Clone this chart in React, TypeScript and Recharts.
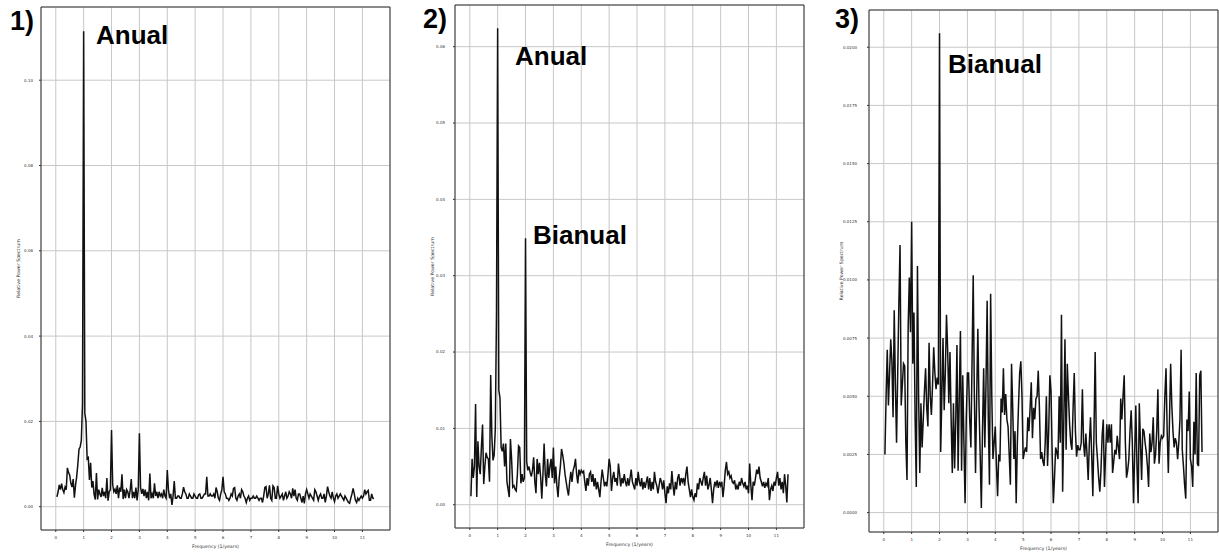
import { LineChart, Line, XAxis, YAxis, CartesianGrid, ReferenceArea } from "recharts";

// frequency ticks (1/years)
const FREQ_TICKS = [0, 1, 2, 3, 4, 5, 6, 7, 8, 9, 10, 11];

// relative power spectrum, in units of 1e-3, sampled every 1/24 year^-1
// (one row of 24 values per unit of frequency)
const SPECTRUM_1 = [
  2.3, 3.5, 5.1, 4.0, 5.4, 4.0, 3.3, 4.6, 4.0, 9.1, 8.0, 7.4, 5.5, 4.6, 6.5, 2.1, 5.0, 7.0, 10, 13.5, 14, 15.5, 24, 111.5,
  22, 20, 11.2, 11.5, 6.3, 10.3, 4.5, 6.0, 2.9, 1.7, 7.9, 1.7, 4.0, 3.0, 2.3, 4.4, 2.5, 3.5, 2.0, 6.7, 1.4, 3.5, 4.0, 18,
  5.2, 3.5, 4.1, 3.0, 5.0, 2.0, 4.5, 3.5, 7.6, 1.8, 4.0, 2.0, 4.0, 3.5, 2.0, 3.8, 6.5, 2.0, 3.5, 2.0, 4.5, 1.5, 4.0, 17.2,
  4.5, 3.0, 4.2, 2.5, 4.0, 2.0, 3.5, 1.5, 7.8, 2.0, 3.0, 2.0, 5.5, 2.5, 3.5, 2.0, 3.5, 2.5, 3.0, 2.0, 4.0, 2.5, 2.0, 8.6,
  4.0, 2.0, 3.0, 0.4, 2.5, 6.0, 2.0, 2.0, 2.5, 2.5, 2.0, 2.0, 3.0, 4.6, 3.5, 3.0, 2.0, 2.0, 3.0, 2.5, 2.0, 2.0, 3.0, 2.5,
  2.0, 2.0, 2.8, 3.0, 2.0, 2.0, 2.5, 3.0, 3.0, 7.0, 2.5, 2.5, 3.0, 2.5, 2.5, 3.0, 2.0, 4.5, 3.5, 2.0, 1.5, 3.0, 4.0, 7.0,
  3.5, 3.0, 2.0, 2.0, 1.5, 2.0, 3.0, 2.5, 4.3, 4.5, 2.0, 1.5, 2.5, 3.0, 2.0, 4.0, 3.5, 2.5, 2.0, 1.0, 2.0, 2.5, 1.5, 2.0,
  2.0, 2.5, 2.0, 2.0, 2.5, 2.0, 1.5, 2.0, 2.0, 1.0, 2.5, 4.5, 4.7, 2.0, 3.0, 5.0, 2.0, 1.5, 4.9, 4.5, 2.0, 2.0, 4.9, 3.0,
  2.0, 2.5, 3.0, 1.5, 2.5, 3.5, 2.0, 2.5, 3.5, 3.0, 2.0, 4.3, 2.5, 4.0, 2.0, 1.5, 3.0, 3.0, 2.0, 1.0, 2.5, 0.8, 3.0, 4.0,
  3.0, 2.0, 3.0, 2.5, 2.0, 1.5, 4.0, 3.5, 2.5, 1.5, 2.5, 3.0, 2.0, 2.0, 3.0, 1.0, 2.5, 4.7, 3.5, 2.5, 2.0, 3.5, 2.0, 1.2,
  2.5, 3.0, 2.0, 2.5, 3.0, 2.5, 2.0, 1.5, 2.5, 2.0, 1.5, 1.0, 0.8, 2.0, 3.0, 4.3, 3.0, 1.5, 1.0, 2.0, 1.5, 2.0, 2.5, 2.0,
  2.5, 4.0, 3.0, 3.5, 3.8, 1.5, 1.5, 3.0, 2.0, 1.9,
];

const SPECTRUM_2 = [
  1.1, 6.0, 3.5, 5.0, 13.2, 1.0, 8.3, 5.0, 4.0, 7.5, 10.5, 2.7, 5.0, 6.8, 6.2, 6.0, 3.0, 17.0, 9.0, 5.8, 6.5, 10, 25, 62.4,
  15, 14, 7.5, 7.0, 8.0, 5.0, 8.0, 3.0, 2.0, 1.0, 8.6, 6.0, 2.3, 2.5, 2.0, 1.8, 4.0, 7.7, 7.5, 2.8, 4.0, 3.0, 3.5, 34.9,
  5.6, 4.5, 5.0, 4.2, 3.7, 4.5, 6.2, 3.0, 1.5, 6.0, 4.0, 5.5, 3.7, 0.8, 4.0, 8.0, 4.0, 2.4, 6.0, 3.5, 5.0, 6.0, 3.5, 7.5,
  2.8, 5.0, 2.5, 1.0, 3.5, 5.0, 7.3, 6.5, 5.5, 4.0, 3.0, 2.0, 1.2, 3.0, 4.3, 3.0, 4.5, 5.0, 6.0, 4.0, 2.8, 4.6, 4.0, 4.5,
  4.2, 4.4, 3.0, 1.8, 3.5, 2.5, 4.0, 4.3, 3.0, 4.0, 2.4, 3.5, 2.0, 3.0, 2.0, 1.0, 3.0, 4.6, 3.5, 2.4, 3.0, 2.4, 4.0, 6.0,
  5.0, 1.8, 3.5, 4.3, 3.0, 3.5, 2.5, 5.4, 4.0, 2.4, 3.5, 2.8, 4.0, 3.0, 2.4, 3.5, 2.5, 3.5, 4.6, 3.0, 2.5, 2.0, 3.5, 2.5,
  4.3, 3.0, 2.4, 3.5, 2.0, 3.0, 2.2, 3.0, 3.7, 2.0, 3.5, 1.8, 3.0, 2.0, 4.3, 3.0, 2.5, 1.5, 2.5, 3.5, 3.0, 2.0, 3.2, 1.5,
  0.2, 2.4, 1.5, 2.8, 2.0, 4.4, 2.5, 1.2, 3.0, 2.0, 3.5, 4.0, 2.5, 3.5, 3.0, 3.5, 2.5, 4.0, 5.0, 3.0, 2.0, 1.0, 2.0, 1.0,
  0.6, 1.5, 1.0, 2.8, 2.0, 3.5, 3.0, 2.5, 3.5, 4.3, 2.5, 3.8, 2.0, 2.6, 3.5, 2.0, 0.2, 2.0, 3.0, 2.5, 3.2, 2.2, 3.0, 2.5,
  3.0, 1.0, 2.5, 4.5, 5.6, 4.0, 4.3, 3.5, 3.8, 3.0, 2.8, 3.2, 2.0, 2.5, 2.0, 3.0, 2.5, 3.5, 2.8, 2.4, 3.0, 2.0, 2.5, 1.5,
  5.4, 2.5, 0.6, 3.0, 2.5, 3.5, 4.6, 4.0, 5.0, 3.5, 3.0, 2.4, 3.0, 2.2, 2.8, 2.5, 3.5, 0.6, 2.0, 2.5, 1.8, 3.0, 2.5, 3.5,
  4.3, 2.5, 3.5, 2.0, 3.0, 1.5, 4.0, 2.5, 0.3, 4.0,
];

const SPECTRUM_3 = [
  2.5, 5.0, 7.0, 4.6, 6.0, 7.45, 6.5, 4.1, 8.7, 5.5, 3.0, 6.0, 9.0, 11.5, 4.6, 5.5, 6.4, 6.3, 3.0, 1.4, 8.0, 10.1, 7.75, 12.5,
  6.4, 8.6, 4.0, 1.1, 10.6, 5.0, 1.7, 4.7, 2.8, 4.0, 5.2, 6.2, 4.5, 3.7, 7.3, 5.0, 4.2, 5.5, 7.1, 6.0, 5.3, 5.8, 5.5, 20.6,
  2.6, 5.0, 7.5, 4.4, 6.0, 8.5, 7.0, 4.7, 6.9, 4.0, 1.7, 4.7, 1.9, 4.0, 7.2, 1.8, 5.0, 7.8, 1.8, 5.9, 3.0, 0.4, 4.0, 6.0,
  6.0, 4.0, 2.8, 6.5, 10.2, 5.0, 1.7, 5.0, 7.9, 4.6, 2.5, 0.2, 3.5, 6.2, 2.8, 5.5, 9.1, 4.0, 1.2, 9.4, 5.0, 2.3, 3.0, 3.7,
  2.0, 0.7, 2.5, 2.2, 4.9, 4.3, 6.2, 4.2, 5.1, 4.0, 3.7, 2.5, 1.2, 6.4, 4.5, 2.3, 3.5, 0.4, 3.0, 4.6, 6.0, 6.5, 5.0, 2.3,
  2.6, 2.8, 2.6, 4.1, 3.5, 4.5, 5.6, 3.2, 4.5, 4.0, 4.9, 5.0, 6.1, 4.5, 2.3, 2.6, 2.2, 2.0, 3.0, 5.0, 2.0, 3.5, 5.9, 5.2,
  2.5, 0.4, 1.5, 2.8, 2.6, 2.3, 5.0, 3.0, 8.5, 0.9, 3.9, 7.45, 2.7, 6.4, 5.0, 3.8, 3.0, 2.7, 4.5, 6.0, 3.5, 2.4, 2.9, 2.7,
  2.7, 3.0, 5.3, 3.0, 2.4, 3.4, 2.5, 1.4, 3.0, 4.1, 2.5, 0.7, 3.5, 6.9, 3.0, 2.3, 1.5, 0.9, 1.8, 3.3, 4.0, 1.1, 2.5, 3.8,
  3.0, 3.8, 3.0, 3.8, 1.7, 2.2, 2.7, 2.5, 3.3, 2.8, 2.3, 4.9, 4.0, 5.0, 5.9, 3.0, 1.5, 1.8, 2.3, 3.5, 4.4, 3.0, 0.4, 2.5,
  4.6, 2.0, 0.4, 4.7, 3.0, 1.4, 3.6, 3.5, 3.0, 2.6, 2.0, 1.1, 3.4, 2.6, 3.0, 4.1, 2.1, 2.5, 3.5, 5.3, 2.1, 3.0, 3.3, 3.2,
  3.3, 5.0, 6.2, 3.5, 1.7, 4.0, 6.4, 4.6, 3.5, 2.8, 3.2, 3.0, 2.3, 3.0, 4.0, 7.0, 2.7, 2.0, 1.2, 0.6, 4.0, 3.5, 5.2, 2.3,
  2.0, 1.1, 3.9, 2.5, 6.0, 2.1, 2.0, 5.9, 6.1, 2.6,
];

const Y_TICKS_1 = [0, 20, 40, 60, 80, 100];
const Y_TICKS_2 = [0, 10, 20, 30, 40, 50, 60];
const Y_TICKS_3 = [0, 2.5, 5, 7.5, 10, 12.5, 15, 17.5, 20];

const toRows = (vals: number[]) =>
  vals.map((v, i) => ({ freq: (i + 1) / 24, power: v }));

const X_DOMAIN: [number, number] = [-0.53, 11.99];

type PanelProps = {
  left: number;
  top: number;
  bottom: number;
  data: { freq: number; power: number }[];
  yDomain: [number, number];
  yTicks: number[];
  decimals: number;
  tickGap: number;
  labelOffset: number;
};

function SpectrumPanel({ left, top, bottom, data, yDomain, yTicks, decimals, tickGap, labelOffset }: PanelProps) {
  return (
    <div style={{ position: "absolute", left, top: 0 }}>
      <LineChart
        width={392}
        height={554}
        data={data}
        margin={{ top, right: 2, left: 0, bottom }}
      >
        <CartesianGrid stroke="#c8c8c8" strokeWidth={1} />
        <XAxis
          dataKey="freq"
          type="number"
          domain={X_DOMAIN}
          allowDataOverflow
          ticks={FREQ_TICKS}
          interval={0}
          height={20}
          axisLine={false}
          tickSize={2}
          tickMargin={4}
          tickLine={{ stroke: "#333" }}
          tick={{ fontSize: 4, fill: "#333" }}
          label={{
            value: "Frequency (1/years)",
            position: "insideBottom",
            offset: 2,
            fontSize: 4.7,
            fill: "#333",
          }}
        />
        <YAxis
          type="number"
          domain={yDomain}
          allowDataOverflow
          ticks={yTicks}
          interval={0}
          width={41}
          axisLine={false}
          tickSize={2}
          tickMargin={tickGap}
          tickLine={{ stroke: "#333" }}
          tick={{ fontSize: 4, fill: "#333" }}
          tickFormatter={(v: number) => (v / 1000).toFixed(decimals)}
          label={{
            value: "Relative Power Spectrum",
            angle: -90,
            position: "insideLeft",
            offset: labelOffset,
            fontSize: 4.7,
            fill: "#333",
            style: { textAnchor: "middle" },
          }}
        />
        {/* frame */}
        <ReferenceArea
          x1={X_DOMAIN[0]}
          x2={X_DOMAIN[1]}
          y1={yDomain[0]}
          y2={yDomain[1]}
          fill="none"
          stroke="#333"
          strokeWidth={1}
          ifOverflow="visible"
        />
        <Line
          type="linear"
          dataKey="power"
          stroke="#111"
          strokeWidth={1.5}
          dot={false}
          isAnimationActive={false}
        />
      </LineChart>
    </div>
  );
}

const bigText = {
  fontFamily: "'Liberation Sans', Arial, sans-serif",
  fontWeight: 700,
  fontSize: 26,
  fill: "#000",
};

export default function App() {
  return (
    <div
      style={{
        position: "absolute",
        left: 0,
        top: 0,
        width: 1219,
        height: 554,
        background: "#fff",
        fontFamily: "'DejaVu Sans', sans-serif",
        overflow: "hidden",
      }}
    >
      <SpectrumPanel
        left={0}
        top={7}
        bottom={4}
        data={toRows(SPECTRUM_1)}
        yDomain={[-5.46, 117.16]}
        yTicks={Y_TICKS_1}
        decimals={2}
        tickGap={6}
        labelOffset={18}
      />
      <SpectrumPanel
        left={414}
        top={5}
        bottom={6}
        data={toRows(SPECTRUM_2)}
        yDomain={[-3.05, 65.46]}
        yTicks={Y_TICKS_2}
        decimals={2}
        tickGap={8}
        labelOffset={18}
      />
      <SpectrumPanel
        left={828}
        top={10}
        bottom={2}
        data={toRows(SPECTRUM_3)}
        yDomain={[-0.834, 21.6]}
        yTicks={Y_TICKS_3}
        decimals={4}
        tickGap={10}
        labelOffset={13}
      />

      {/* panel numbers and annotations */}
      <svg
        width={1219}
        height={554}
        style={{ position: "absolute", left: 0, top: 0, pointerEvents: "none" }}
      >
        <text x={10} y={30} style={{ ...bigText, fontSize: 27 }}>1)</text>
        <text x={96} y={44} style={bigText}>Anual</text>
        <text x={423} y={28} style={{ ...bigText, fontSize: 27 }}>2)</text>
        <text x={515} y={65} style={bigText}>Anual</text>
        <text x={533} y={244} style={bigText}>Bianual</text>
        <text x={835} y={28} style={{ ...bigText, fontSize: 27 }}>3)</text>
        <text x={948} y={73} style={bigText}>Bianual</text>
      </svg>
    </div>
  );
}
